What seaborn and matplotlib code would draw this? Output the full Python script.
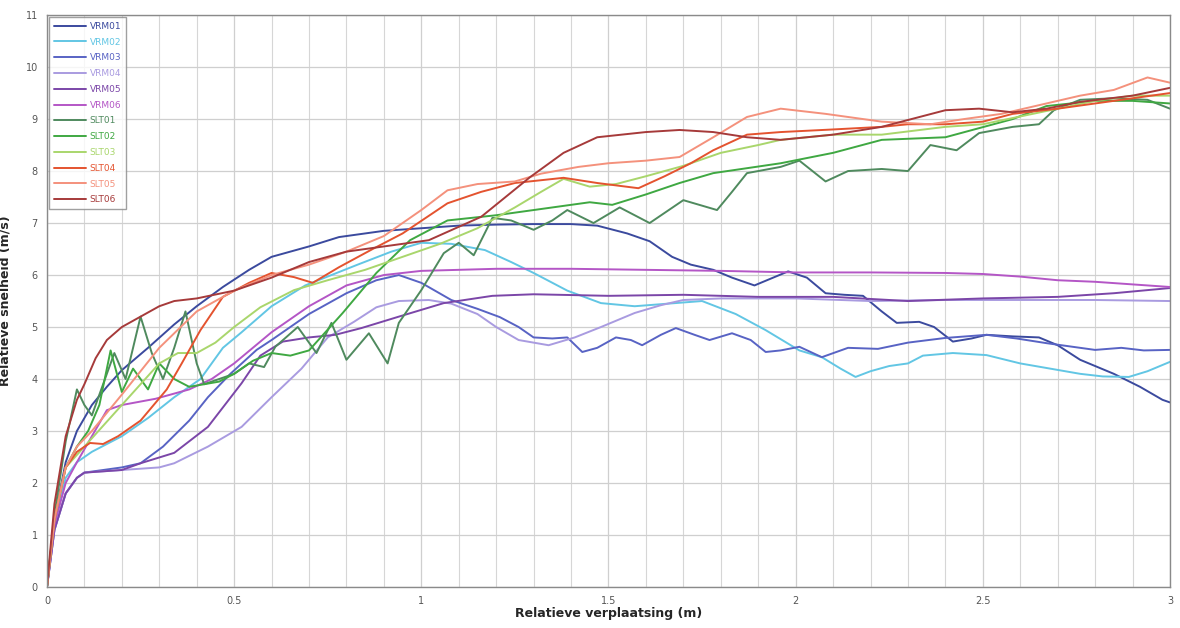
import numpy as np
import pandas as pd
import matplotlib
matplotlib.use('Agg')
import matplotlib.pyplot as plt
import seaborn as sns

# --- data ---
series_names = ['VRM01', 'VRM02', 'VRM03', 'VRM04', 'VRM05', 'VRM06',
                'SLT01', 'SLT02', 'SLT03', 'SLT04', 'SLT05', 'SLT06']
series_colors = ['#3b4a9e', '#62c6e4', '#5863c4', '#a99be0', '#7b46a8', '#b456c6',
                 '#4f8a5e', '#3fa842', '#a9d66c', '#e4532f', '#f4917c', '#a63a3a']

vrm01_x = [0, 0.02, 0.05, 0.08, 0.12, 0.16, 0.2, 0.27, 0.34, 0.4, 0.47, 0.54, 0.6, 0.7, 0.78, 0.9,
           1.0, 1.1, 1.2, 1.3, 1.4, 1.47, 1.55, 1.61, 1.67, 1.72, 1.78, 1.83, 1.89, 1.94, 1.98, 2.03,
           2.08, 2.13, 2.18, 2.23, 2.27, 2.33, 2.37, 2.42, 2.47, 2.51, 2.58, 2.65, 2.7, 2.76, 2.85,
           2.92, 2.98, 3.0]
vrm01_y = [0, 1.3, 2.4, 3.0, 3.5, 3.85, 4.17, 4.6, 5.05, 5.4, 5.77, 6.1, 6.35, 6.55, 6.73, 6.85,
           6.9, 6.95, 6.97, 6.98, 6.98, 6.95, 6.8, 6.65, 6.35, 6.2, 6.1, 5.95, 5.8, 5.95, 6.07, 5.95,
           5.65, 5.62, 5.6, 5.3, 5.08, 5.1, 5.0, 4.72, 4.78, 4.85, 4.82, 4.8, 4.65, 4.37, 4.1,
           3.85, 3.6, 3.55]

vrm02_x = [0, 0.02, 0.05, 0.08, 0.12, 0.2, 0.27, 0.34, 0.41, 0.47, 0.52, 0.6, 0.69, 0.76, 0.83, 0.92,
           1.0, 1.08, 1.17, 1.24, 1.3, 1.39, 1.48, 1.57, 1.66, 1.75, 1.84, 1.92, 2.01, 2.07, 2.12,
           2.16, 2.2, 2.25, 2.3, 2.34, 2.42, 2.51, 2.6, 2.68, 2.76, 2.82, 2.89, 2.94, 3.0]
vrm02_y = [0, 1.2, 2.1, 2.4, 2.6, 2.9, 3.25, 3.65, 4.0, 4.6, 4.9, 5.4, 5.8, 6.0, 6.2, 6.45,
           6.62, 6.6, 6.48, 6.25, 6.04, 5.7, 5.46, 5.4, 5.45, 5.5, 5.25, 4.94, 4.55, 4.42, 4.2,
           4.04, 4.15, 4.25, 4.3, 4.45, 4.5, 4.46, 4.3, 4.2, 4.1, 4.05, 4.04, 4.15, 4.33]

vrm03_x = [0, 0.02, 0.05, 0.08, 0.1, 0.15, 0.2, 0.25, 0.31, 0.38, 0.43, 0.49, 0.56, 0.6, 0.7, 0.8,
           0.88, 0.94, 1.0, 1.08, 1.15, 1.21, 1.26, 1.3, 1.35, 1.39, 1.43, 1.47, 1.52, 1.56, 1.59,
           1.64, 1.68, 1.73, 1.77, 1.83, 1.88, 1.92, 1.96, 2.01, 2.07, 2.14, 2.22, 2.3, 2.4, 2.51,
           2.59, 2.67, 2.74, 2.8, 2.87, 2.93, 3.0]
vrm03_y = [0, 1.1, 1.8, 2.1, 2.2, 2.25, 2.3, 2.38, 2.7, 3.2, 3.65, 4.1, 4.56, 4.75, 5.25, 5.65,
           5.9, 6.0, 5.85, 5.52, 5.35, 5.19, 5.0, 4.8, 4.78, 4.8, 4.52, 4.6, 4.8, 4.75, 4.65,
           4.85, 4.98, 4.85, 4.75, 4.88, 4.75, 4.52, 4.55, 4.62, 4.42, 4.6, 4.58, 4.7, 4.79, 4.85,
           4.78, 4.69, 4.62, 4.56, 4.6, 4.55, 4.56]

vrm04_x = [0, 0.02, 0.05, 0.08, 0.1, 0.2, 0.3, 0.34, 0.43, 0.52, 0.6, 0.68, 0.75, 0.82, 0.88, 0.94,
           1.02, 1.08, 1.15, 1.2, 1.26, 1.34, 1.41, 1.48, 1.57, 1.64, 1.7, 1.8, 2.0, 2.2, 2.4,
           2.6, 2.8, 3.0]
vrm04_y = [0, 1.1, 1.8, 2.1, 2.2, 2.25, 2.3, 2.38, 2.7, 3.08, 3.65, 4.2, 4.8, 5.1, 5.38, 5.5,
           5.52, 5.45, 5.25, 5.0, 4.75, 4.65, 4.8, 5.0, 5.27, 5.42, 5.52, 5.55, 5.55, 5.5, 5.52,
           5.52, 5.52, 5.5]

vrm05_x = [0, 0.02, 0.05, 0.08, 0.1, 0.2, 0.25, 0.34, 0.43, 0.52, 0.57, 0.63, 0.7, 0.77, 0.84,
           0.94, 1.06, 1.19, 1.3, 1.5, 1.7, 1.9, 2.1, 2.3, 2.5, 2.7, 2.85, 3.0]
vrm05_y = [0, 1.1, 1.8, 2.1, 2.2, 2.25, 2.38, 2.58, 3.08, 3.92, 4.45, 4.72, 4.8, 4.85, 4.98,
           5.2, 5.46, 5.6, 5.63, 5.6, 5.62, 5.58, 5.58, 5.5, 5.55, 5.58, 5.65, 5.75]

vrm06_x = [0, 0.02, 0.05, 0.08, 0.12, 0.16, 0.2, 0.29, 0.38, 0.44, 0.5, 0.6, 0.7, 0.8, 0.9, 1.0,
           1.2, 1.4, 1.6, 1.8, 2.0, 2.2, 2.4, 2.5, 2.6, 2.7, 2.8, 2.9, 3.0]
vrm06_y = [0, 1.2, 2.0, 2.4, 2.9, 3.4, 3.5, 3.62, 3.8, 4.0, 4.3, 4.9, 5.4, 5.8, 6.0, 6.08,
           6.12, 6.12, 6.1, 6.08, 6.05, 6.05, 6.04, 6.02, 5.97, 5.9, 5.87, 5.82, 5.77]

slt01_x = [0, 0.02, 0.05, 0.08, 0.1, 0.12, 0.15, 0.18, 0.21, 0.25, 0.28, 0.31, 0.34, 0.37, 0.4,
           0.42, 0.46, 0.5, 0.54, 0.58, 0.61, 0.67, 0.72, 0.76, 0.8, 0.86, 0.91, 0.94, 1.0, 1.06,
           1.1, 1.14, 1.19, 1.24, 1.3, 1.35, 1.39, 1.46, 1.53, 1.61, 1.7, 1.79, 1.83, 1.87, 1.96,
           2.01, 2.08, 2.14, 2.23, 2.3, 2.36, 2.43, 2.49, 2.58, 2.65, 2.69, 2.76, 2.85, 2.94, 3.0]
slt01_y = [0, 1.4, 2.8, 3.8, 3.5, 3.3, 3.9, 4.5, 4.0, 5.2, 4.5, 4.0, 4.6, 5.3, 4.3,
           3.9, 4.0, 4.1, 4.3, 4.23, 4.62, 5.0, 4.5, 5.08, 4.37, 4.88, 4.3, 5.08, 5.71, 6.42,
           6.62, 6.38, 7.1, 7.05, 6.87, 7.05, 7.25, 7.0, 7.3, 7.0, 7.44, 7.25, 7.6, 7.96, 8.08,
           8.2, 7.8, 8.0, 8.04, 8.0, 8.5, 8.4, 8.73, 8.85, 8.9, 9.17, 9.37, 9.4, 9.37, 9.2]

slt02_x = [0, 0.02, 0.05, 0.08, 0.11, 0.14, 0.17, 0.2, 0.23, 0.27, 0.3, 0.34, 0.38, 0.42, 0.46,
           0.5, 0.55, 0.6, 0.65, 0.7, 0.79, 0.88, 0.97, 1.07, 1.2, 1.3, 1.45, 1.51, 1.6, 1.69,
           1.78, 1.96, 2.1, 2.23, 2.4, 2.58, 2.67, 2.8, 2.9, 3.0]
slt02_y = [0, 1.3, 2.3, 2.7, 3.0, 3.5, 4.55, 3.75, 4.2, 3.8, 4.3, 4.0, 3.85, 3.9, 3.95,
           4.1, 4.35, 4.5, 4.45, 4.55, 5.27, 6.04, 6.67, 7.05, 7.15, 7.25, 7.4, 7.35, 7.55, 7.77,
           7.96, 8.15, 8.35, 8.6, 8.65, 9.0, 9.25, 9.35, 9.35, 9.3]

slt03_x = [0, 0.02, 0.05, 0.1, 0.15, 0.2, 0.25, 0.3, 0.35, 0.4, 0.45, 0.5, 0.57, 0.66, 0.75, 0.85,
           0.95, 1.05, 1.15, 1.25, 1.32, 1.38, 1.45, 1.52, 1.6, 1.7, 1.8, 1.9, 1.96, 2.1, 2.23,
           2.4, 2.5, 2.6, 2.7, 2.8, 2.9, 3.0]
slt03_y = [0, 1.3, 2.3, 2.7, 3.1, 3.5, 3.9, 4.3, 4.5, 4.5, 4.7, 5.0, 5.38, 5.71, 5.9, 6.1,
           6.35, 6.6, 6.9, 7.3, 7.6, 7.85, 7.7, 7.75, 7.9, 8.1, 8.35, 8.5, 8.6, 8.7, 8.7,
           8.85, 8.9, 9.05, 9.2, 9.35, 9.45, 9.45]

slt04_x = [0, 0.02, 0.05, 0.08, 0.115, 0.15, 0.19, 0.25, 0.32, 0.36, 0.41, 0.47, 0.54, 0.6, 0.66,
           0.71, 0.78, 0.87, 0.95, 1.07, 1.16, 1.25, 1.38, 1.47, 1.58, 1.65, 1.72, 1.78, 1.87,
           1.96, 2.1, 2.23, 2.3, 2.4, 2.5, 2.58, 2.7, 2.8, 2.9, 3.0]
slt04_y = [0, 1.3, 2.3, 2.6, 2.77, 2.75, 2.9, 3.2, 3.8, 4.3, 4.94, 5.58, 5.85, 6.04, 5.96,
           5.85, 6.15, 6.5, 6.8, 7.38, 7.6, 7.77, 7.87, 7.77, 7.67, 7.9, 8.15, 8.4, 8.7,
           8.75, 8.8, 8.85, 8.9, 8.9, 8.95, 9.1, 9.2, 9.3, 9.4, 9.5]

slt05_x = [0, 0.02, 0.05, 0.08, 0.12, 0.2, 0.3, 0.4, 0.5, 0.6, 0.7, 0.8, 0.9, 1.0, 1.07, 1.15,
           1.25, 1.32, 1.42, 1.5, 1.6, 1.69, 1.78, 1.87, 1.96, 2.08, 2.23, 2.36, 2.45, 2.55, 2.67,
           2.76, 2.85, 2.94, 3.0]
slt05_y = [0, 1.3, 2.3, 2.7, 3.0, 3.7, 4.6, 5.3, 5.7, 6.0, 6.2, 6.45, 6.75, 7.25, 7.63, 7.75,
           7.8, 7.95, 8.08, 8.15, 8.2, 8.27, 8.65, 9.04, 9.2, 9.1, 8.95, 8.9, 9.0, 9.1, 9.3,
           9.45, 9.56, 9.8, 9.7]

slt06_x = [0, 0.02, 0.05, 0.08, 0.1, 0.13, 0.16, 0.2, 0.25, 0.3, 0.34, 0.4, 0.5, 0.6, 0.7, 0.8,
           0.89, 1.02, 1.16, 1.29, 1.38, 1.47, 1.6, 1.69, 1.78, 1.87, 1.96, 2.1, 2.23, 2.4, 2.49,
           2.58, 2.67, 2.76, 2.9, 3.0]
slt06_y = [0, 1.6, 2.9, 3.6, 3.9, 4.4, 4.75, 5.0, 5.2, 5.4, 5.5, 5.55, 5.7, 5.95, 6.25, 6.45,
           6.54, 6.67, 7.12, 7.88, 8.35, 8.65, 8.75, 8.79, 8.75, 8.65, 8.6, 8.7, 8.85, 9.17, 9.2,
           9.13, 9.2, 9.33, 9.45, 9.6]

x_tick_values = [0, 0.5, 1, 1.5, 2, 2.5, 3]
x_tick_labels = ['0', '0.5', '1', '1.5', '2', '2.5', '3']
y_tick_values = list(range(0, 12))

all_x = [vrm01_x, vrm02_x, vrm03_x, vrm04_x, vrm05_x, vrm06_x,
         slt01_x, slt02_x, slt03_x, slt04_x, slt05_x, slt06_x]
all_y = [vrm01_y, vrm02_y, vrm03_y, vrm04_y, vrm05_y, vrm06_y,
         slt01_y, slt02_y, slt03_y, slt04_y, slt05_y, slt06_y]

frames = []
for name, xs, ys in zip(series_names, all_x, all_y):
    frames.append(pd.DataFrame({'x': xs, 'y': ys, 'serie': name, 'idx': range(len(xs))}))
df = pd.concat(frames, ignore_index=True)
palette = dict(zip(series_names, series_colors))

sns.set_style('white')
plt.rcParams['font.family'] = ['DejaVu Sans']

fig = plt.figure(figsize=(11.8, 6.28), dpi=100)
ax = fig.add_axes([0.0398, 0.0653, 0.9517, 0.9107])

sns.lineplot(data=df, x='x', y='y', hue='serie', hue_order=series_names, palette=palette,
             sort=False, estimator=None, units='serie', linewidth=1.4, ax=ax, legend=True)

ax.set_xlim(0, 3)
ax.set_ylim(0, 11)
ax.set_xticks(x_tick_values)
ax.set_xticklabels(x_tick_labels)
ax.set_yticks(y_tick_values)
ax.set_xticks(np.arange(0, 3.01, 0.1), minor=True)
ax.grid(which='major', color='#cfcfcf', linewidth=0.9)
ax.grid(which='minor', axis='x', color='#d6d6d6', linewidth=0.8)
ax.set_axisbelow(True)
ax.tick_params(axis='both', labelsize=7, colors='#555555', length=3, width=0.6)
ax.tick_params(axis='x', which='minor', length=0)
for sp in ax.spines.values():
    sp.set_color('#8a8a8a')
    sp.set_linewidth(1.0)

ax.set_xlabel('Relatieve verplaatsing (m)', fontsize=9, fontweight='bold', labelpad=1)
ax.set_ylabel('Relatieve snelheid (m/s)', fontsize=9, fontweight='bold', labelpad=10)

leg = ax.legend(loc='upper left', fontsize=6.5, frameon=True, fancybox=False,
                edgecolor='#888888', handlelength=3.6, handletextpad=0.4,
                labelspacing=0.75, borderaxespad=0.25, borderpad=0.5, title=None)
leg.get_frame().set_linewidth(1.0)
for txt, col in zip(leg.get_texts(), series_colors):
    txt.set_color(col)
for line in leg.get_lines():
    line.set_linewidth(1.4)

fig.savefig('out.png', dpi=100)
